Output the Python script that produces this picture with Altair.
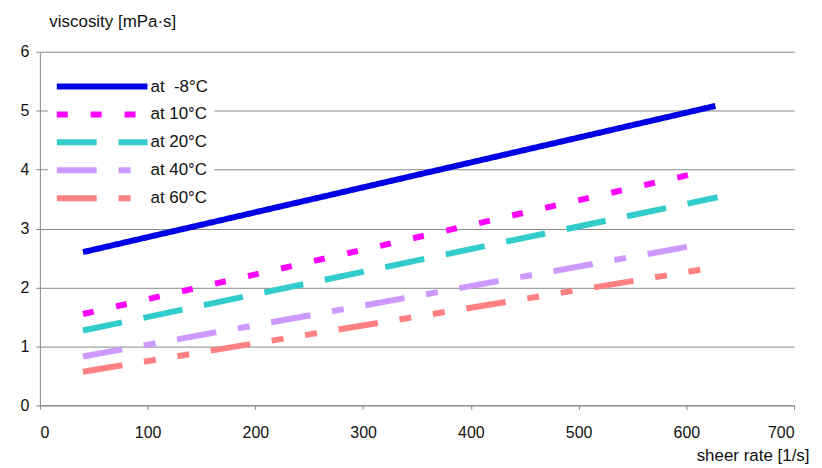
import altair as alt
import pandas as pd

series = ["at \u00a0-8°C", "at 10°C", "at 20°C", "at 40°C", "at 60°C"]
shear_start = [40, 40, 40, 40, 40]
shear_end = [627, 612, 629, 610, 623]
visc_start = [2.6, 1.55, 1.27, 0.83, 0.57]
visc_end = [5.08, 3.95, 3.53, 2.72, 2.33]
colors = ["#0000e6", "#ff00ff", "#33cccc", "#cc99ff", "#ff8080"]
dashes = [[1, 0], [11, 23], [40, 22], [40, 22, 12, 22], [40, 22, 12, 22, 12, 22]]

rows = []
for s, x0, x1, y0, y1 in zip(series, shear_start, shear_end, visc_start, visc_end):
    rows.append({"series": s, "shear": x0, "visc": y0})
    rows.append({"series": s, "shear": x1, "visc": y1})
df = pd.DataFrame(rows)

FONT = "Liberation Sans"

leg = dict(title=None, orient="none", legendX=8, legendY=16, padding=6,
           fillColor="white",
           symbolType="M-1,0H8.1", symbolSize=400, symbolStrokeWidth=6,
           labelOffset=71, rowPadding=3)

chart = alt.Chart(df).mark_line(strokeWidth=6, strokeCap="butt").encode(
    x=alt.X("shear:Q", scale=alt.Scale(domain=[0, 700], nice=False),
            axis=alt.Axis(values=list(range(0, 701, 100)), grid=False, labelPadding=15,
                          title="sheer rate [1/s]", titleAngle=0, titleAlign="right",
                          titleBaseline="alphabetic", titleX=772, titleY=55)),
    y=alt.Y("visc:Q", scale=alt.Scale(domain=[0, 6], nice=False),
            axis=alt.Axis(values=list(range(0, 7)), grid=True, labelPadding=7,
                          title="viscosity [mPa·s]", titleAngle=0, titleAlign="left",
                          titleBaseline="alphabetic", titleX=9, titleY=-25)),
    color=alt.Color("series:N", scale=alt.Scale(domain=series, range=colors),
                    legend=alt.Legend(**leg)),
    strokeDash=alt.StrokeDash("series:N", scale=alt.Scale(domain=series, range=dashes),
                              legend=alt.Legend(**leg)),
    detail="series:N",
).properties(
    width=757, height=355,
    autosize=alt.AutoSizeParams(type="none"),
    padding={"left": 32, "top": 43, "right": 20, "bottom": 60},
).configure_view(stroke=None).configure_axis(
    labelFont=FONT, titleFont=FONT, labelFontSize=16, titleFontSize=17,
    labelColor="#111", titleColor="#111", titleFontWeight="normal",
    domainColor="#888", tickColor="#888", gridColor="#8a8a8a",
    tickSize=4,
).configure_legend(
    labelFont=FONT, labelFontSize=17, labelColor="#111",
)

chart.save("out.html", embed_options={"renderer": "svg", "actions": False})
